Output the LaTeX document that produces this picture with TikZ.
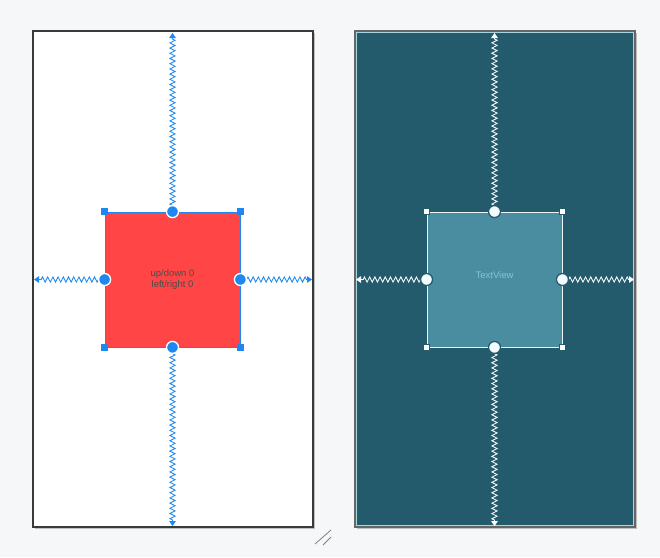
\documentclass[tikz,border=0pt]{standalone}
\usepackage{fontspec}
\setmainfont{Liberation Sans}
\usetikzlibrary{decorations.pathmorphing,arrows.meta}
\definecolor{bg}{HTML}{F6F7F9}
\definecolor{hblue}{HTML}{1E88F0}
\definecolor{boxred}{HTML}{FF4545}
\definecolor{tdark}{HTML}{235B6D}
\definecolor{tlight}{HTML}{4A8DA1}
\definecolor{ttext}{HTML}{86C4D4}
\definecolor{frame}{HTML}{3A3A3A}
\begin{document}
\begin{tikzpicture}[x=1pt,y=-1pt,
  panelbox/.style={draw=frame, line width=1.6, minimum width=280, minimum height=496, inner sep=0, outer sep=0},
  handle/.style={circle, minimum size=12, inner sep=0, line width=1.3},
  corner/.style={rectangle, minimum size=6, inner sep=0, line width=0.6},
  zz/.style={decorate, decoration={zigzag, segment length=5.2, amplitude=2.6, pre length=1, post length=5}, line width=0.85},
  tipa/.style={-{Triangle[length=5,width=6.5]}}
]
\useasboundingbox (0,0) rectangle (660,557);
\fill[bg] (0,0) rectangle (660,557);
% shadows
\fill[black!25] (34.5,32.5) rectangle (315,529);
\fill[black!25] (356.5,32.5) rectangle (637,529);
% panels
\node[panelbox, fill=white] (lp) at (173,279) {};
\node[panelbox, fill=tdark, draw=gray!80!black] (rp) at (495,279) {};
\draw[ttext!70, line width=0.5] ([shift={(1.5,1.5)}]rp.north west) rectangle ([shift={(-1.5,-1.5)}]rp.south east);
% left box
\node[draw=hblue, fill=boxred, line width=0.8, minimum width=135, minimum height=135, inner sep=0, align=center, font=\fontsize{9.5}{11.5}\selectfont, text=black!70] (lb) at (172.5,279.5) {up/down 0\\left/right 0};
% left edge coordinates
\coordinate (lt) at (172.5,33);
\coordinate (lbm) at (172.5,526);
\coordinate (ll) at (34,279.5);
\coordinate (lr) at (312,279.5);
% left zigzags
\draw[zz, hblue, tipa] (lb.north) -- (lt);
\draw[zz, hblue, tipa] (lb.south) -- (lbm);
\draw[zz, hblue, tipa] (lb.west) -- (ll);
\draw[zz, hblue, tipa] (lb.east) -- (lr);
% left handles
\node[handle, fill=hblue, draw=white] (lhn) at (lb.north) {};
\node[handle, fill=hblue, draw=white] (lhs) at (lb.south) {};
\node[handle, fill=hblue, draw=white] (lhw) at (lb.west) {};
\node[handle, fill=hblue, draw=white] (lhe) at (lb.east) {};
\node[corner, fill=hblue, draw=hblue] (lc1) at (lb.north west) {};
\node[corner, fill=hblue, draw=hblue] (lc2) at (lb.north east) {};
\node[corner, fill=hblue, draw=hblue] (lc3) at (lb.south west) {};
\node[corner, fill=hblue, draw=hblue] (lc4) at (lb.south east) {};
% right box
\node[draw=white!90!tlight, fill=tlight, line width=0.9, minimum width=135, minimum height=135, inner sep=0, font=\fontsize{9.5}{11}\selectfont, text=ttext] (rb) at (494.5,279.5) {\raisebox{8pt}{TextView}};
\coordinate (rt) at (494.5,33);
\coordinate (rbm) at (494.5,526);
\coordinate (rl) at (356,279.5);
\coordinate (rr) at (634,279.5);
\draw[zz, white, tipa] (rb.north) -- (rt);
\draw[zz, white, tipa] (rb.south) -- (rbm);
\draw[zz, white, tipa] (rb.west) -- (rl);
\draw[zz, white, tipa] (rb.east) -- (rr);
\node[handle, fill=white!95!cyan, draw=tdark] (rhn) at (rb.north) {};
\node[handle, fill=white!95!cyan, draw=tdark] (rhs) at (rb.south) {};
\node[handle, fill=white!95!cyan, draw=tdark] (rhw) at (rb.west) {};
\node[handle, fill=white!95!cyan, draw=tdark] (rhe) at (rb.east) {};
\node[corner, fill=white, draw=tdark] (rc1) at (rb.north west) {};
\node[corner, fill=white, draw=tdark] (rc2) at (rb.north east) {};
\node[corner, fill=white, draw=tdark] (rc3) at (rb.south west) {};
\node[corner, fill=white, draw=tdark] (rc4) at (rb.south east) {};
% resize grip
\draw[gray, line width=0.8] (315,544) -- (331,530);
\draw[gray, line width=0.8] (323,545) -- (331,537);
\end{tikzpicture}
\end{document}
